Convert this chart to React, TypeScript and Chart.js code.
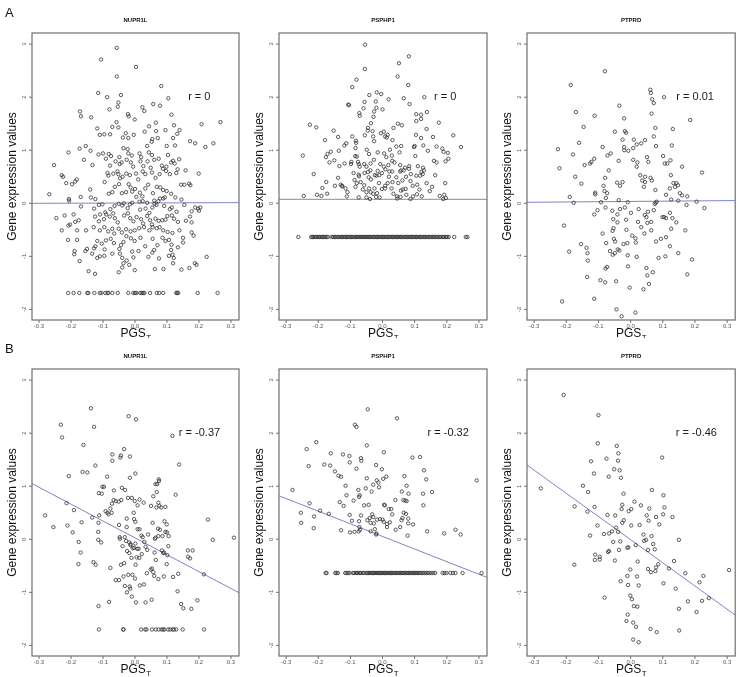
import React, { useEffect, useRef } from "react";
import { Chart, registerables } from "chart.js";
Chart.register(...registerables);

// ---------- axis ticks ----------
const xTickValues = [-0.3, -0.2, -0.1, 0.0, 0.1, 0.2, 0.3];
const xTickLabels = ["-0.3", "-0.2", "-0.1", "0.0", "0.1", "0.2", "0.3"];
const yTickValues = [-2, -1, 0, 1, 2, 3];
const yTickLabels = ["-2", "-1", "0", "1", "2", "3"];
const X_MIN = -0.322;
const X_MAX = 0.325;
const Y_MIN = -2.2;
const Y_MAX = 3.21;

// ---------- panel texts ----------
const panelTitles = ["NUPR1L", "PSPHP1", "PTPRD", "NUPR1L", "PSPHP1", "PTPRD"];
const rLabels = ["r = 0", "r = 0", "r = 0.01", "r = -0.37", "r = -0.32", "r = -0.46"];
const rLabelX = [0.166, 0.16, 0.142, 0.137, 0.14, 0.14];
const rLabelY = [2.0, 2.0, 2.0, 2.0, 2.0, 2.0];
const yAxisTitle = "Gene expression values";
const xAxisTitleMain = "PGS";
const xAxisTitleSub = "T";

// ---------- regression fits ----------
const fitIntercepts = [0.006, 0.075, 0.035, 0.026, 0.054, -0.007];
const fitSlopes = [0.02, 0.0, 0.05, -3.18, -2.38, -4.37];

// ---------- data: panel A1 (NUPR1L, all) ----------
const a1Points: [number, number][] = [
  [-0.057, 2.93], [-0.106, 2.71], [0.003, 2.57], [-0.057, 2.39], [0.082, 2.21], [-0.115, 2.08], [-0.044, 2.04],
  [-0.087, 2.0], [0.104, 1.98], [-0.052, 1.9], [-0.054, 1.82], [0.057, 1.87], [0.078, 1.84], [0.023, 1.81],
  [0.029, 1.74], [-0.08, 1.77], [-0.172, 1.73], [-0.169, 1.64], [-0.022, 1.68], [-0.02, 1.64], [-0.137, 1.62],
  [0.114, 1.67], [-0.001, 1.58], [0.267, 1.53], [-0.058, 1.53], [0.065, 1.52], [0.044, 1.45], [0.122, 1.47],
  [0.208, 1.49], [-0.118, 1.41], [-0.071, 1.44], [-0.052, 1.43], [-0.096, 1.3], [-0.11, 1.29], [-0.078, 1.3],
  [-0.029, 1.32], [0.03, 1.35], [0.066, 1.36], [0.095, 1.38], [0.139, 1.38], [-0.004, 1.29], [-0.038, 1.24],
  [-0.021, 1.23], [0.054, 1.21], [0.071, 1.23], [0.119, 1.23], [0.132, 1.31], [0.172, 1.17], [0.188, 1.13],
  [0.245, 1.13], [0.22, 1.06], [-0.154, 1.08], [-0.173, 1.03], [-0.036, 1.04], [-0.023, 1.02], [0.038, 1.08],
  [0.052, 1.16], [0.099, 1.08], [0.125, 1.09], [-0.208, 0.96], [-0.139, 0.99], [-0.114, 0.92], [-0.1, 0.94],
  [-0.082, 0.93], [-0.075, 0.89], [-0.049, 0.87], [-0.021, 0.94], [-0.01, 0.9], [0.014, 0.94], [0.019, 0.87],
  [0.043, 0.96], [0.053, 0.91], [0.074, 0.84], [0.103, 0.91], [0.119, 0.8], [0.113, 0.77], [0.124, 0.75],
  [0.138, 0.83], [-0.16, 0.82], [-0.091, 0.84], [-0.061, 0.79], [-0.042, 0.77], [-0.026, 0.82], [-0.013, 0.77],
  [0.017, 0.79], [0.039, 0.79], [0.06, 0.82], [0.084, 0.71], [0.098, 0.69], [0.133, 0.64], [-0.253, 0.72],
  [-0.133, 0.72], [-0.078, 0.71], [-0.048, 0.74], [-0.006, 0.69], [0.026, 0.7], [0.049, 0.67], [0.158, 0.62],
  [-0.229, 0.53], [-0.225, 0.5], [-0.182, 0.45], [-0.187, 0.41], [-0.197, 0.36], [-0.215, 0.38], [-0.086, 0.57],
  [-0.083, 0.52], [-0.068, 0.56], [-0.055, 0.6], [-0.052, 0.55], [-0.047, 0.47], [-0.039, 0.5], [-0.027, 0.56],
  [-0.016, 0.53], [0.003, 0.56], [0.01, 0.45], [0.024, 0.6], [0.032, 0.55], [0.053, 0.58], [0.064, 0.48],
  [0.077, 0.55], [0.087, 0.65], [0.097, 0.61], [0.109, 0.55], [0.129, 0.57], [0.144, 0.35], [0.154, 0.35],
  [0.169, 0.37], [0.173, 0.34], [0.199, 0.56], [-0.268, 0.17], [-0.246, -0.28], [-0.207, 0.08], [-0.206, 0.05],
  [-0.17, 0.12], [-0.169, -0.06], [-0.14, 0.26], [-0.138, 0.11], [-0.124, 0.08], [-0.102, -0.02], [-0.109, -0.21],
  [-0.095, 0.4], [-0.082, 0.18], [-0.071, 0.21], [-0.063, 0.31], [-0.05, 0.36], [-0.041, 0.19], [-0.028, 0.21],
  [-0.02, 0.36], [-0.014, 0.3], [-0.009, 0.22], [0.0, 0.27], [0.004, 0.12], [0.015, 0.2], [0.023, 0.13],
  [0.032, 0.28], [0.041, 0.35], [0.056, 0.19], [0.068, 0.31], [0.079, 0.3], [0.088, 0.25], [0.099, 0.23],
  [0.113, 0.18], [0.126, 0.11], [0.145, 0.07], [-0.051, -0.01], [-0.035, 0.0], [-0.016, -0.02], [-0.009, 0.01],
  [0.014, 0.03], [0.024, 0.04], [0.038, 0.01], [0.061, -0.01], [0.073, 0.04], [0.078, 0.09], [0.088, 0.09],
  [0.093, 0.11], [0.06, 0.05], [-0.22, -0.23], [-0.192, -0.21], [-0.128, -0.1], [-0.113, -0.03], [-0.093, -0.17],
  [-0.077, -0.11], [-0.064, -0.05], [-0.04, -0.04], [-0.023, -0.09], [0.016, -0.12], [0.033, -0.1], [0.045, -0.18],
  [0.054, -0.08], [0.067, -0.03], [0.091, -0.05], [0.109, -0.11], [0.115, -0.08], [0.13, -0.16], [0.154, -0.03],
  [0.177, -0.15], [0.188, -0.08], [0.197, -0.1], [0.204, -0.08], [0.2, -0.14], [-0.203, -0.4], [-0.176, -0.32],
  [-0.125, -0.25], [-0.113, -0.34], [-0.097, -0.3], [-0.09, -0.21], [-0.079, -0.25], [-0.068, -0.19], [-0.063, -0.28],
  [-0.054, -0.36], [-0.034, -0.23], [-0.022, -0.19], [-0.015, -0.28], [-0.005, -0.34], [0.005, -0.26], [0.019, -0.3],
  [0.025, -0.38], [0.038, -0.24], [0.047, -0.32], [0.053, -0.4], [0.064, -0.29], [0.074, -0.33], [0.085, -0.32],
  [0.095, -0.31], [0.101, -0.24], [0.115, -0.23], [0.122, -0.29], [0.134, -0.35], [0.159, -0.33], [0.177, -0.36],
  [0.172, -0.25], [-0.229, -0.51], [-0.208, -0.42], [-0.187, -0.35], [-0.181, -0.51], [-0.153, -0.51], [-0.129, -0.45],
  [-0.11, -0.51], [-0.096, -0.45], [-0.084, -0.53], [-0.071, -0.48], [-0.065, -0.57], [-0.051, -0.48], [-0.041, -0.55],
  [-0.028, -0.49], [-0.014, -0.53], [-0.001, -0.51], [0.013, -0.47], [0.028, -0.45], [0.045, -0.51], [0.055, -0.45],
  [0.068, -0.47], [0.077, -0.45], [0.088, -0.51], [0.102, -0.54], [0.117, -0.56], [0.139, -0.51], [0.15, -0.65],
  [0.177, -0.55], [0.183, -0.61], [-0.209, -0.69], [-0.181, -0.69], [-0.15, -0.86], [-0.124, -0.81], [-0.118, -0.71],
  [-0.104, -0.76], [-0.091, -0.7], [-0.076, -0.67], [-0.066, -0.75], [-0.044, -0.79], [-0.036, -0.73], [-0.027, -0.62],
  [-0.013, -0.66], [-0.001, -0.71], [0.017, -0.65], [0.032, -0.81], [0.055, -0.67], [0.07, -0.79], [0.086, -0.65],
  [0.095, -0.71], [0.106, -0.69], [0.114, -0.78], [0.134, -0.83], [0.15, -0.74], [-0.189, -0.9], [-0.19, -0.96],
  [-0.173, -1.09], [-0.155, -0.9], [-0.134, -0.95], [-0.128, -0.85], [-0.118, -1.03], [-0.11, -1.0], [-0.095, -0.87],
  [-0.096, -0.99], [-0.071, -0.95], [-0.049, -0.86], [-0.047, -0.95], [-0.04, -1.03], [-0.036, -1.13], [-0.026, -1.08],
  [-0.018, -1.16], [-0.009, -0.91], [-0.005, -1.02], [0.011, -0.9], [-0.001, -1.26], [-0.051, -1.3], [-0.04, -1.21],
  [-0.145, -1.28], [-0.125, -1.33], [0.042, -1.01], [0.054, -0.93], [0.06, -0.88], [0.062, -1.24], [0.089, -1.24],
  [0.106, -0.99], [0.113, -0.88], [0.117, -0.97], [0.121, -1.03], [0.119, -1.13], [0.145, -1.25], [0.17, -1.22],
  [0.187, -1.13], [0.192, -1.16], [0.224, -1.01], [0.075, -1.04],
];
const a1FloorY = -1.69;
const a1FloorX = [
  -0.209, -0.192, -0.174, -0.149, -0.146, -0.127, -0.11, -0.105, -0.093, -0.086, -0.083, -0.071, -0.054, -0.021,
  -0.005, 0.0, 0.004, 0.016, 0.021, 0.026, 0.029, 0.047, 0.068, 0.076, 0.088, 0.129, 0.132, 0.135, 0.196, 0.258,
];

// ---------- data: panel A2 (PSPHP1, all) ----------
const a2Points: [number, number][] = [
  [-0.054, 2.99], [0.082, 2.77], [0.051, 2.64], [-0.055, 2.53], [0.047, 2.39], [-0.081, 2.33], [-0.094, 2.19],
  [0.08, 2.23], [-0.041, 2.04], [-0.018, 2.09], [-0.004, 2.06], [0.019, 1.96], [0.066, 1.98], [0.13, 2.0],
  [-0.056, 1.91], [-0.021, 1.92], [-0.107, 1.86], [-0.104, 1.85], [-0.059, 1.79], [-0.019, 1.8], [0.0, 1.77],
  [0.084, 1.87], [-0.026, 1.73], [0.105, 1.68], [0.12, 1.67], [0.138, 1.72], [-0.072, 1.7], [-0.071, 1.65],
  [-0.028, 1.63], [0.12, 1.59], [0.105, 1.55], [0.048, 1.5], [0.06, 1.47], [-0.036, 1.51], [0.175, 1.52],
  [0.034, 1.42], [-0.226, 1.48], [-0.206, 1.43], [-0.152, 1.37], [-0.045, 1.42], [-0.046, 1.37], [-0.031, 1.36],
  [0.137, 1.4], [-0.005, 1.32], [0.004, 1.35], [0.016, 1.29], [-0.055, 1.28], [-0.029, 1.26], [0.008, 1.26],
  [0.013, 1.24], [0.104, 1.29], [-0.138, 1.25], [-0.094, 1.26], [0.12, 1.23], [0.157, 1.25], [0.22, 1.28],
  [-0.179, 1.19], [-0.113, 1.13], [-0.083, 1.18], [-0.082, 1.14], [-0.026, 1.17], [0.031, 1.19], [-0.119, 1.09],
  [0.043, 1.07], [0.058, 1.08], [0.1, 1.08], [0.098, 1.06], [0.127, 1.09], [0.168, 1.07], [0.186, 1.03],
  [0.244, 1.06], [-0.248, 0.9], [-0.171, 0.93], [-0.161, 0.97], [-0.136, 0.99], [-0.084, 1.04], [-0.049, 1.01],
  [0.005, 0.94], [0.023, 1.01], [-0.042, 0.93], [-0.015, 0.96], [0.029, 0.9], [0.053, 0.96], [0.102, 0.89],
  [0.141, 0.99], [0.19, 0.97], [0.203, 0.95], [-0.176, 0.87], [-0.085, 0.89], [-0.08, 0.88], [-0.027, 0.82],
  [0.012, 0.87], [0.03, 0.8], [0.168, 0.77], [0.16, 0.8], [0.196, 0.79], [0.205, 0.84], [-0.097, 0.78],
  [-0.118, 0.75], [-0.134, 0.7], [-0.098, 0.74], [-0.076, 0.78], [-0.074, 0.74], [-0.057, 0.74], [-0.037, 0.75],
  [-0.007, 0.74], [0.004, 0.69], [0.018, 0.72], [0.037, 0.77], [0.055, 0.72], [0.066, 0.62], [0.083, 0.7],
  [0.082, 0.65], [0.11, 0.7], [0.126, 0.67], [0.129, 0.62], [-0.15, 0.81], [-0.165, 0.77], [-0.05, 0.69],
  [-0.071, 0.69], [-0.015, 0.61], [-0.002, 0.57], [0.009, 0.64], [0.021, 0.6], [0.03, 0.6], [0.055, 0.6],
  [0.058, 0.62], [0.07, 0.67], [0.088, 0.55], [0.105, 0.52], [0.121, 0.59], [0.125, 0.55], [0.164, 0.53],
  [-0.214, 0.55], [-0.09, 0.57], [-0.074, 0.54], [-0.056, 0.57], [-0.045, 0.59], [-0.038, 0.62], [-0.068, 0.4],
  [-0.073, 0.51], [-0.043, 0.49], [-0.036, 0.45], [-0.024, 0.53], [-0.019, 0.52], [-0.01, 0.53], [0.02, 0.5],
  [0.043, 0.49], [0.062, 0.43], [0.073, 0.5], [0.117, 0.52], [-0.175, 0.4], [-0.138, 0.48], [-0.13, 0.35],
  [-0.126, 0.33], [-0.115, 0.28], [-0.109, 0.21], [-0.111, 0.13], [-0.087, 0.44], [-0.084, 0.31], [-0.08, 0.38],
  [-0.061, 0.26], [-0.057, 0.34], [-0.05, 0.21], [-0.042, 0.28], [-0.025, 0.28], [-0.011, 0.38], [-0.002, 0.27],
  [0.008, 0.33], [0.016, 0.38], [0.031, 0.4], [0.049, 0.38], [0.057, 0.24], [0.063, 0.26], [0.072, 0.27],
  [0.087, 0.42], [0.094, 0.33], [0.108, 0.35], [0.115, 0.26], [0.137, 0.38], [0.154, 0.31], [0.147, 0.23],
  [0.178, 0.14], [0.195, 0.38], [-0.187, 0.29], [-0.172, 0.18], [-0.19, 0.14], [-0.245, 0.14], [-0.204, 0.16],
  [-0.148, 0.33], [-0.125, 0.32], [-0.037, 0.21], [-0.029, 0.18], [-0.017, 0.19], [0.008, 0.28], [0.028, 0.28],
  [0.034, 0.18], [0.056, 0.12], [0.074, 0.16], [0.107, 0.17], [0.122, 0.13], [-0.02, 0.12], [-0.05, 0.11],
  [-0.074, 0.11], [-0.039, 0.08], [-0.009, 0.11], [0.046, 0.09], [0.087, 0.08], [0.095, 0.13], [0.045, 0.13],
  [0.189, 0.08], [0.192, 0.16], [0.197, 0.1],
];
const a2FloorY = -0.635;
const a2FloorX = [
  -0.262, -0.222, -0.218, -0.215, -0.21, -0.207, -0.202, -0.198, -0.195, -0.19, -0.186, -0.183, -0.178, -0.174,
  -0.17, -0.158, -0.154, -0.149, -0.146, -0.141, -0.137, -0.132, -0.128, -0.125, -0.12, -0.116, -0.112, -0.108,
  -0.104, -0.099, -0.096, -0.092, -0.087, -0.083, -0.08, -0.076, -0.071, -0.067, -0.064, -0.06, -0.055, -0.051,
  -0.048, -0.043, -0.04, -0.036, -0.031, -0.027, -0.024, -0.019, -0.016, -0.012, -0.008, -0.004, 0.0, 0.003,
  0.007, 0.012, 0.015, 0.019, 0.023, 0.027, 0.031, 0.034, 0.039, 0.043, 0.046, 0.05, 0.055, 0.058, 0.062,
  0.066, 0.071, 0.074, 0.078, 0.083, 0.086, 0.09, 0.094, 0.098, 0.103, 0.106, 0.11, 0.115, 0.118, 0.122,
  0.127, 0.131, 0.134, 0.139, 0.143, 0.147, 0.152, 0.156, 0.16, 0.165, 0.169, 0.174, 0.178, 0.183, 0.188,
  0.192, 0.197, 0.201, 0.206, 0.223, 0.259, 0.264,
];

// ---------- data: panel A3 (PTPRD, all) ----------
const a3Points: [number, number][] = [
  [-0.08, 2.49], [-0.186, 2.23], [0.061, 2.14], [0.063, 2.08], [0.067, 1.96], [0.072, 1.89], [0.104, 2.0],
  [-0.17, 1.72], [-0.035, 1.84], [0.065, 1.69], [-0.112, 1.65], [-0.02, 1.6], [0.185, 1.57], [-0.146, 1.44],
  [-0.049, 1.35], [-0.018, 1.36], [-0.014, 1.33], [0.077, 1.42], [0.131, 1.4], [-0.025, 1.2], [0.01, 1.2],
  [0.045, 1.19], [0.072, 1.26], [-0.16, 1.14], [0.019, 1.11], [0.033, 1.13], [0.079, 1.08], [0.128, 1.09],
  [-0.226, 1.02], [-0.087, 1.06], [-0.02, 1.06], [-0.02, 1.0], [0.008, 1.04], [-0.007, 0.99], [-0.179, 0.92],
  [-0.072, 0.9], [-0.062, 0.94], [0.101, 0.89], [0.051, 0.87], [-0.143, 0.72], [-0.122, 0.78], [-0.113, 0.84],
  [-0.126, 0.75], [-0.037, 0.8], [0.008, 0.82], [0.021, 0.77], [0.055, 0.78], [0.106, 0.75], [0.114, 0.75],
  [0.124, 0.81], [0.16, 0.69], [-0.221, 0.66], [0.019, 0.69], [-0.068, 0.62], [-0.079, 0.48], [-0.172, 0.5],
  [0.03, 0.53], [0.045, 0.5], [0.062, 0.48], [0.066, 0.43], [0.125, 0.53], [0.045, 0.4], [-0.042, 0.39],
  [-0.025, 0.4], [0.222, 0.58], [-0.153, 0.37], [-0.084, 0.33], [-0.033, 0.33], [0.036, 0.43], [0.041, 0.31],
  [0.077, 0.25], [0.133, 0.38], [0.142, 0.38], [0.147, 0.34], [0.138, 0.31], [-0.081, 0.23], [-0.073, 0.19],
  [-0.11, 0.2], [-0.11, 0.17], [0.153, 0.19], [0.122, 0.28], [0.11, 0.16], [0.16, 0.15], [0.176, 0.13],
  [-0.189, 0.12], [-0.077, 0.1], [0.126, 0.07], [0.148, 0.05], [0.205, 0.03], [0.229, -0.09], [-0.177, 0.01],
  [-0.092, 0.02], [-0.037, 0.06], [-0.009, 0.02], [0.075, -0.01], [0.078, 0.01], [0.081, 0.03], [0.174, -0.03],
  [-0.103, -0.13], [-0.113, -0.21], [-0.078, -0.08], [-0.057, -0.14], [-0.033, -0.11], [-0.018, -0.08], [0.001, -0.18],
  [0.025, -0.11], [0.054, -0.16], [0.072, -0.13], [0.099, -0.26], [0.104, -0.26], [0.11, -0.28], [0.122, -0.18],
  [0.13, -0.28], [0.142, -0.36], [-0.207, -0.42], [-0.054, -0.3], [-0.041, -0.36], [-0.041, -0.21], [-0.014, -0.31],
  [0.044, -0.22], [0.023, -0.35], [0.033, -0.45], [0.049, -0.26], [0.064, -0.35], [0.064, -0.51], [0.126, -0.48],
  [0.17, -0.51], [0.043, -0.57], [0.052, -0.37], [-0.087, -0.57], [-0.053, -0.47], [-0.056, -0.52], [-0.052, -0.67],
  [-0.048, -0.72], [-0.076, -0.75], [-0.013, -0.5], [-0.022, -0.77], [-0.01, -0.75], [0.005, -0.61], [0.015, -0.66],
  [0.016, -0.74], [0.079, -0.72], [0.094, -0.67], [0.11, -0.64], [0.122, -0.81], [-0.154, -0.77], [-0.064, -0.9],
  [-0.04, -0.87], [-0.035, -0.89], [-0.191, -0.91], [-0.137, -0.84], [-0.134, -0.94], [-0.133, -1.08], [-0.056, -0.97],
  [-0.049, -0.94], [-0.009, -0.98], [0.019, -1.01], [0.087, -1.03], [0.108, -1.0], [0.148, -0.94], [0.191, -1.06],
  [-0.078, -1.23], [-0.073, -1.2], [-0.008, -1.19], [0.049, -1.22], [-0.135, -1.39], [0.052, -1.36], [0.069, -1.3],
  [0.176, -1.34], [-0.094, -1.45], [-0.079, -1.49], [-0.045, -1.47], [0.057, -1.52], [-0.003, -1.59], [0.04, -1.62],
  [-0.113, -1.8], [-0.213, -1.85], [-0.044, -2.0], [-0.028, -2.13], [0.015, -2.06],
];

// ---------- data: panel B1 (NUPR1L, subgroup) ----------
const b1Points: [number, number][] = [
  [-0.138, 2.47], [-0.02, 2.32], [0.003, 2.26], [-0.232, 2.16], [-0.128, 2.12], [-0.228, 1.92], [0.117, 1.95],
  [-0.161, 1.78], [-0.034, 1.7], [-0.071, 1.6], [-0.044, 1.58], [-0.046, 1.54], [-0.016, 1.56], [-0.071, 1.48],
  [-0.124, 1.39], [0.138, 1.41], [-0.164, 1.27], [-0.149, 1.26], [0.001, 1.24], [-0.207, 1.19], [-0.087, 1.18],
  [-0.016, 1.16], [0.074, 1.13], [0.075, 1.1], [-0.041, 0.97], [-0.102, 0.99], [-0.097, 0.99], [-0.031, 0.93],
  [-0.066, 0.92], [0.064, 1.04], [0.069, 1.04], [-0.113, 0.87], [-0.104, 0.86], [0.127, 0.84], [0.068, 0.89],
  [-0.022, 0.78], [-0.01, 0.78], [-0.043, 0.74], [-0.06, 0.72], [-0.051, 0.71], [-0.001, 0.72], [0.014, 0.75],
  [0.027, 0.69], [-0.067, 0.74], [-0.072, 0.67], [0.057, 0.81], [0.05, 0.63], [0.067, 0.6], [0.076, 0.63],
  [0.082, 0.6], [0.095, 0.61], [0.073, 0.69], [0.008, 0.64], [-0.214, 0.68], [-0.191, 0.55], [-0.092, 0.53],
  [-0.086, 0.5], [-0.077, 0.58], [-0.073, 0.5], [-0.083, 0.47], [-0.112, 0.45], [-0.134, 0.41], [-0.114, 0.31],
  [-0.281, 0.45], [-0.211, 0.26], [-0.167, 0.32], [-0.195, 0.13], [-0.255, 0.23], [-0.05, 0.27], [-0.026, 0.39],
  [-0.003, 0.38], [-0.004, 0.5], [0.001, 0.33], [0.008, 0.19], [0.014, 0.19], [0.055, 0.31], [0.099, 0.28],
  [-0.026, 0.23], [-0.115, 0.14], [0.072, 0.2], [0.078, 0.18], [0.092, 0.34], [0.062, 0.01], [0.064, 0.03],
  [0.073, 0.06], [0.086, 0.06], [0.095, 0.14], [0.1, 0.13], [0.105, 0.06], [0.02, 0.07], [0.024, 0.04],
  [0.041, 0.09], [0.029, -0.05], [0.033, -0.14], [0.038, -0.2], [0.061, -0.25], [0.084, -0.21], [0.088, -0.26],
  [0.091, -0.25], [0.104, -0.13], [0.101, -0.3], [-0.048, 0.04], [-0.047, 0.01], [-0.032, 0.04], [-0.028, -0.03],
  [-0.018, -0.06], [-0.014, -0.09], [-0.014, -0.11], [-0.007, -0.17], [-0.003, -0.16], [0.001, -0.08], [0.007, -0.18],
  [0.011, -0.18], [-0.025, -0.22], [-0.018, -0.26], [-0.011, -0.35], [0.005, -0.34], [0.013, -0.35], [0.021, -0.28],
  [-0.039, -0.13], [-0.106, -0.06], [-0.115, -0.01], [-0.176, -0.05], [-0.17, -0.25], [-0.177, -0.47], [-0.13, -0.43],
  [-0.123, -0.48], [-0.077, -0.54], [-0.06, -0.77], [-0.036, -0.7], [-0.044, -0.48], [-0.034, -0.45], [-0.032, -0.88],
  [-0.021, -0.67], [-0.015, -0.93], [-0.017, -0.89], [-0.008, -0.67], [0.0, -0.74], [-0.025, -1.0], [-0.01, -1.08],
  [0.003, -1.19], [0.015, -0.87], [0.028, -0.85], [0.033, -1.19], [0.037, -0.64], [0.049, -0.57], [0.053, -0.55],
  [0.057, -0.62], [0.06, -0.69], [0.073, -0.75], [0.052, -1.14], [0.065, -0.39], [0.09, -0.7], [0.099, -0.47],
  [0.119, -0.71], [0.135, -0.65], [0.133, -0.98], [0.144, -1.22], [0.151, -1.3], [0.176, -1.31], [0.165, -0.21],
  [0.166, -0.33], [0.172, -0.36], [0.18, -0.21], [0.195, -1.15], [0.215, -0.66], [0.228, 0.37], [0.243, -0.01],
  [0.309, 0.03], [-0.114, -1.26], [-0.081, -1.18], [-0.05, -0.77], [0.002, -0.48],
];
const b1FloorY = -1.7;
const b1FloorX = [
  -0.113, -0.037, -0.036, 0.019, 0.032, 0.036, 0.053, 0.065, 0.074, 0.083, 0.088, 0.092, 0.104, 0.11, 0.118,
  0.122, 0.129, 0.149, 0.216,
];

// ---------- data: panel B2 (PSPHP1, subgroup) ----------
const b2Points: [number, number][] = [
  [-0.046, 2.45], [0.045, 2.28], [-0.086, 2.16], [-0.081, 2.12], [-0.206, 1.83], [-0.049, 1.77], [-0.236, 1.7],
  [0.004, 1.64], [-0.161, 1.62], [-0.123, 1.6], [-0.103, 1.57], [-0.067, 1.53], [-0.066, 1.48], [-0.102, 1.45],
  [0.093, 1.54], [0.117, 1.55], [-0.181, 1.41], [-0.163, 1.39], [-0.23, 1.38], [-0.02, 1.4], [-0.081, 1.33],
  [-0.002, 1.32], [-0.148, 1.28], [0.129, 1.3], [-0.137, 1.2], [-0.129, 1.18], [-0.049, 1.15], [0.002, 1.14],
  [0.012, 1.18], [0.068, 1.19], [0.136, 1.13], [-0.018, 1.11], [-0.013, 1.07], [-0.28, 0.93], [-0.029, 1.03],
  [-0.011, 0.98], [-0.115, 1.01], [-0.052, 0.96], [0.06, 0.9], [0.075, 1.01], [-0.034, 0.9], [-0.075, 0.93],
  [0.154, 0.89], [0.293, 1.11], [-0.112, 0.83], [-0.071, 0.83], [-0.073, 0.8], [0.081, 0.86], [0.126, 0.86],
  [-0.09, 0.73], [-0.133, 0.7], [-0.121, 0.63], [-0.057, 0.64], [-0.043, 0.65], [0.005, 0.65], [0.007, 0.64],
  [0.04, 0.74], [0.065, 0.74], [0.071, 0.73], [0.075, 0.72], [0.127, 0.64], [-0.227, 0.68], [0.019, 0.57],
  [0.027, 0.57], [-0.194, 0.54], [-0.167, 0.48], [-0.254, 0.5], [-0.102, 0.46], [-0.067, 0.45], [-0.047, 0.36],
  [-0.04, 0.4], [-0.032, 0.47], [-0.029, 0.42], [-0.008, 0.38], [0.0, 0.37], [0.004, 0.33], [0.03, 0.47],
  [0.059, 0.36], [0.062, 0.4], [0.066, 0.5], [0.073, 0.48], [0.08, 0.39], [0.08, 0.3], [0.095, 0.28],
  [-0.213, 0.43], [-0.253, 0.31], [-0.214, 0.21], [-0.095, 0.35], [-0.073, 0.34], [-0.072, 0.23], [-0.07, 0.18],
  [-0.074, 0.15], [-0.037, 0.31], [-0.027, 0.3], [-0.017, 0.37], [0.014, 0.29], [0.014, 0.23], [0.023, 0.32],
  [0.055, 0.23], [0.041, 0.18], [-0.129, 0.17], [-0.101, 0.13], [-0.087, 0.14], [-0.037, 0.15], [-0.024, 0.19],
  [-0.019, 0.11], [-0.02, 0.09], [0.078, 0.07], [0.139, 0.15], [0.192, 0.11], [0.227, 0.18], [0.243, 0.09],
];
const b2FloorY = -0.635;
const b2FloorX = [
  -0.177, -0.174, -0.147, -0.143, -0.139, -0.116, -0.112, -0.107, -0.103, -0.092, -0.088, -0.083, -0.079, -0.075,
  -0.07, -0.066, -0.061, -0.057, -0.05, -0.046, -0.043, -0.039, -0.035, -0.031, -0.028, -0.024, -0.02, -0.017,
  -0.013, -0.009, -0.006, -0.002, 0.002, 0.006, 0.009, 0.013, 0.017, 0.021, 0.024, 0.028, 0.032, 0.036, 0.04,
  0.044, 0.048, 0.052, 0.056, 0.06, 0.064, 0.068, 0.072, 0.076, 0.08, 0.084, 0.088, 0.092, 0.096, 0.1, 0.104,
  0.108, 0.112, 0.117, 0.121, 0.126, 0.131, 0.136, 0.141, 0.146, 0.152, 0.158, 0.164, 0.187, 0.193, 0.199,
  0.211, 0.219, 0.227, 0.249, 0.308,
];

// ---------- data: panel B3 (PTPRD, subgroup) ----------
const b3Points: [number, number][] = [
  [-0.208, 2.72], [-0.1, 2.34], [-0.102, 1.81], [-0.043, 1.76], [-0.038, 1.62], [-0.075, 1.52], [-0.039, 1.48],
  [0.098, 1.54], [-0.123, 1.47], [-0.051, 1.32], [-0.034, 1.3], [-0.114, 1.24], [-0.068, 1.18], [-0.03, 1.16],
  [-0.148, 1.01], [-0.132, 0.89], [0.066, 0.93], [0.102, 0.83], [-0.022, 0.86], [-0.174, 0.62], [-0.112, 0.61],
  [-0.028, 0.57], [-0.026, 0.65], [0.002, 0.57], [0.012, 0.71], [0.032, 0.64], [0.058, 0.58], [-0.006, 0.53],
  [-0.134, 0.52], [0.105, 0.6], [0.101, 0.47], [-0.072, 0.46], [-0.048, 0.45], [0.05, 0.45], [0.079, 0.42],
  [0.056, 0.35], [-0.021, 0.36], [-0.026, 0.31], [-0.103, 0.26], [0.028, 0.27], [0.002, 0.26], [0.089, 0.28],
  [0.13, 0.42], [-0.045, 0.22], [-0.058, 0.15], [-0.039, 0.14], [-0.067, 0.11], [-0.083, 0.1], [-0.126, 0.07],
  [0.04, 0.09], [0.065, 0.06], [0.048, -0.01], [0.042, -0.03], [0.07, -0.09], [0.15, -0.01], [-0.054, -0.05],
  [-0.032, -0.04], [0.016, -0.11], [-0.01, -0.16], [-0.007, -0.15], [-0.036, -0.2], [0.054, -0.2], [0.075, -0.19],
  [-0.067, -0.22], [-0.07, -0.24], [-0.11, -0.29], [-0.096, -0.33], [-0.096, -0.38], [-0.111, -0.39], [-0.049, -0.4],
  [-0.175, -0.48], [0.022, -0.42], [0.135, -0.41], [0.086, -0.47], [0.079, -0.53], [0.054, -0.56], [0.063, -0.62],
  [0.077, -0.6], [0.119, -0.55], [-0.001, -0.57], [0.17, -0.64], [0.226, -0.69], [0.214, -0.81], [0.306, -0.58],
  [-0.031, -0.79], [-0.01, -0.69], [0.02, -0.7], [-0.008, -0.86], [0.025, -0.87], [0.14, -0.93], [0.102, -0.83],
  [-0.081, -1.1], [-0.001, -1.06], [0.004, -1.13], [0.01, -1.26], [0.021, -1.27], [0.15, -1.31], [0.178, -1.17],
  [0.222, -1.16], [0.243, -1.11], [0.205, -1.37], [-0.009, -1.42], [-0.013, -1.54], [0.008, -1.57], [0.017, -1.65],
  [0.062, -1.69], [0.081, -1.75], [0.151, -1.72], [0.008, -1.89], [0.025, -1.94], [-0.279, 0.96],
];

// ---------- assemble panels ----------
const toXY = (pts: [number, number][]) => pts.map(([x, y]) => ({ x, y }));
const floorXY = (xs: number[], y: number) => xs.map((x) => ({ x, y }));

const panelData = [
  [...toXY(a1Points), ...floorXY(a1FloorX, a1FloorY)],
  [...toXY(a2Points), ...floorXY(a2FloorX, a2FloorY)],
  [...toXY(a3Points)],
  [...toXY(b1Points), ...floorXY(b1FloorX, b1FloorY)],
  [...toXY(b2Points), ...floorXY(b2FloorX, b2FloorY)],
  [...toXY(b3Points)],
];

// layout (canvas boxes and inner padding)
const colLeft = [0, 247, 495];
const colWidth = [247, 248, 245];
const colPadLeft = [32, 32, 32];
const colPadRight = [8, 8, 4];
const rowTop = [0, 338];
const rowHeight = [338, 339];
const rowPadTop = [33, 31];
const rowPadBottom = [18, 21];

const FONT = "'Liberation Sans', Arial, Helvetica, sans-serif";

function makeDecorPlugin(idx: number) {
  return {
    id: "decor" + idx,
    afterDatasetsDraw(chart: any) {
      const { ctx, chartArea } = chart;
      const { left, right, top, bottom } = chartArea;
      const xs = chart.scales.x;
      const ys = chart.scales.y;
      ctx.save();
      // box
      ctx.strokeStyle = "#6e6e6e";
      ctx.lineWidth = 1.2;
      ctx.strokeRect(left, top, right - left, bottom - top);
      // x ticks
      ctx.lineWidth = 1;
      ctx.fillStyle = "#555";
      ctx.font = `6px ${FONT}`;
      ctx.textAlign = "center";
      ctx.textBaseline = "top";
      xTickValues.forEach((v, i) => {
        const px = xs.getPixelForValue(v);
        ctx.beginPath();
        ctx.moveTo(px, bottom);
        ctx.lineTo(px, bottom + 3);
        ctx.stroke();
        ctx.fillText(xTickLabels[i], px, bottom + 3.5);
      });
      // y ticks
      yTickValues.forEach((v, i) => {
        const py = ys.getPixelForValue(v);
        ctx.beginPath();
        ctx.moveTo(left - 3, py);
        ctx.lineTo(left, py);
        ctx.stroke();
        ctx.save();
        ctx.translate(left - 5, py);
        ctx.rotate(-Math.PI / 2);
        ctx.textAlign = "center";
        ctx.textBaseline = "bottom";
        ctx.fillText(yTickLabels[i], 0, 0);
        ctx.restore();
      });
      // title
      ctx.fillStyle = "#111";
      ctx.font = `bold 6px ${FONT}`;
      ctx.textAlign = "center";
      ctx.textBaseline = "middle";
      ctx.fillText(panelTitles[idx], (left + right) / 2, top - 13);
      // y axis title
      ctx.save();
      ctx.translate(left - 19.5, (top + bottom) / 2);
      ctx.rotate(-Math.PI / 2);
      ctx.font = `12px ${FONT}`;
      ctx.textAlign = "center";
      ctx.textBaseline = "middle";
      ctx.fillText(yAxisTitle, 0, 0);
      ctx.restore();
      // x axis title PGS_T
      ctx.font = `12px ${FONT}`;
      const wMain = ctx.measureText(xAxisTitleMain).width;
      ctx.font = `8px ${FONT}`;
      const wSub = ctx.measureText(xAxisTitleSub).width;
      const cx = (left + right) / 2;
      const sx = cx - (wMain + wSub) / 2;
      ctx.textAlign = "left";
      ctx.textBaseline = "alphabetic";
      ctx.font = `12px ${FONT}`;
      ctx.fillText(xAxisTitleMain, sx, bottom + 16.5);
      ctx.font = `8px ${FONT}`;
      ctx.fillText(xAxisTitleSub, sx + wMain + 0.5, bottom + 19.5);
      // r label
      ctx.font = `11px ${FONT}`;
      ctx.fillStyle = "#1a1a1a";
      ctx.textAlign = "left";
      ctx.textBaseline = "middle";
      ctx.fillText(rLabels[idx], xs.getPixelForValue(rLabelX[idx]), ys.getPixelForValue(rLabelY[idx]));
      ctx.restore();
    },
  };
}

function Panel({ idx }: { idx: number }) {
  const ref = useRef<HTMLCanvasElement | null>(null);
  const col = idx % 3;
  const row = Math.floor(idx / 3);
  const w = colWidth[col];
  const h = rowHeight[row];
  useEffect(() => {
    if (!ref.current) return;
    const b = fitIntercepts[idx];
    const m = fitSlopes[idx];
    const chart = new Chart(ref.current, {
      type: "scatter",
      data: {
        datasets: [
          {
            data: panelData[idx],
            pointStyle: "circle",
            pointRadius: 1.7,
            pointBorderWidth: 0.8,
            borderColor: "#333",
            backgroundColor: "rgba(0,0,0,0)",
            pointBackgroundColor: "rgba(0,0,0,0)",
            pointBorderColor: "#333",
          } as any,
          {
            data: [
              { x: X_MIN, y: b + m * X_MIN },
              { x: X_MAX, y: b + m * X_MAX },
            ],
            showLine: true,
            pointRadius: 0,
            borderColor: "#7d86c6",
            borderWidth: 1,
            backgroundColor: "rgba(0,0,0,0)",
          } as any,
        ],
      },
      options: {
        animation: false,
        responsive: false,
        devicePixelRatio: 1,
        events: [],
        layout: {
          padding: {
            left: colPadLeft[col],
            right: colPadRight[col],
            top: rowPadTop[row],
            bottom: rowPadBottom[row],
          },
        },
        plugins: { legend: { display: false }, tooltip: { enabled: false }, title: { display: false } },
        scales: {
          x: { type: "linear", display: false, min: X_MIN, max: X_MAX },
          y: { type: "linear", display: false, min: Y_MIN, max: Y_MAX },
        },
      },
      plugins: [makeDecorPlugin(idx)],
    });
    return () => chart.destroy();
  }, [idx]);
  return (
    <canvas
      ref={ref}
      width={w}
      height={h}
      style={{ position: "absolute", left: colLeft[col], top: rowTop[row], width: w, height: h }}
    />
  );
}

export default function App() {
  return (
    <div
      style={{
        position: "absolute",
        left: 0,
        top: 0,
        width: 740,
        height: 677,
        background: "#fff",
        overflow: "hidden",
        fontFamily: FONT,
      }}
    >
      {[0, 1, 2, 3, 4, 5].map((i) => (
        <Panel key={i} idx={i} />
      ))}
      <div style={{ position: "absolute", left: 5, top: 6, fontSize: 13, lineHeight: "13px", color: "#111" }}>A</div>
      <div style={{ position: "absolute", left: 5, top: 342, fontSize: 13, lineHeight: "13px", color: "#111" }}>B</div>
    </div>
  );
}
